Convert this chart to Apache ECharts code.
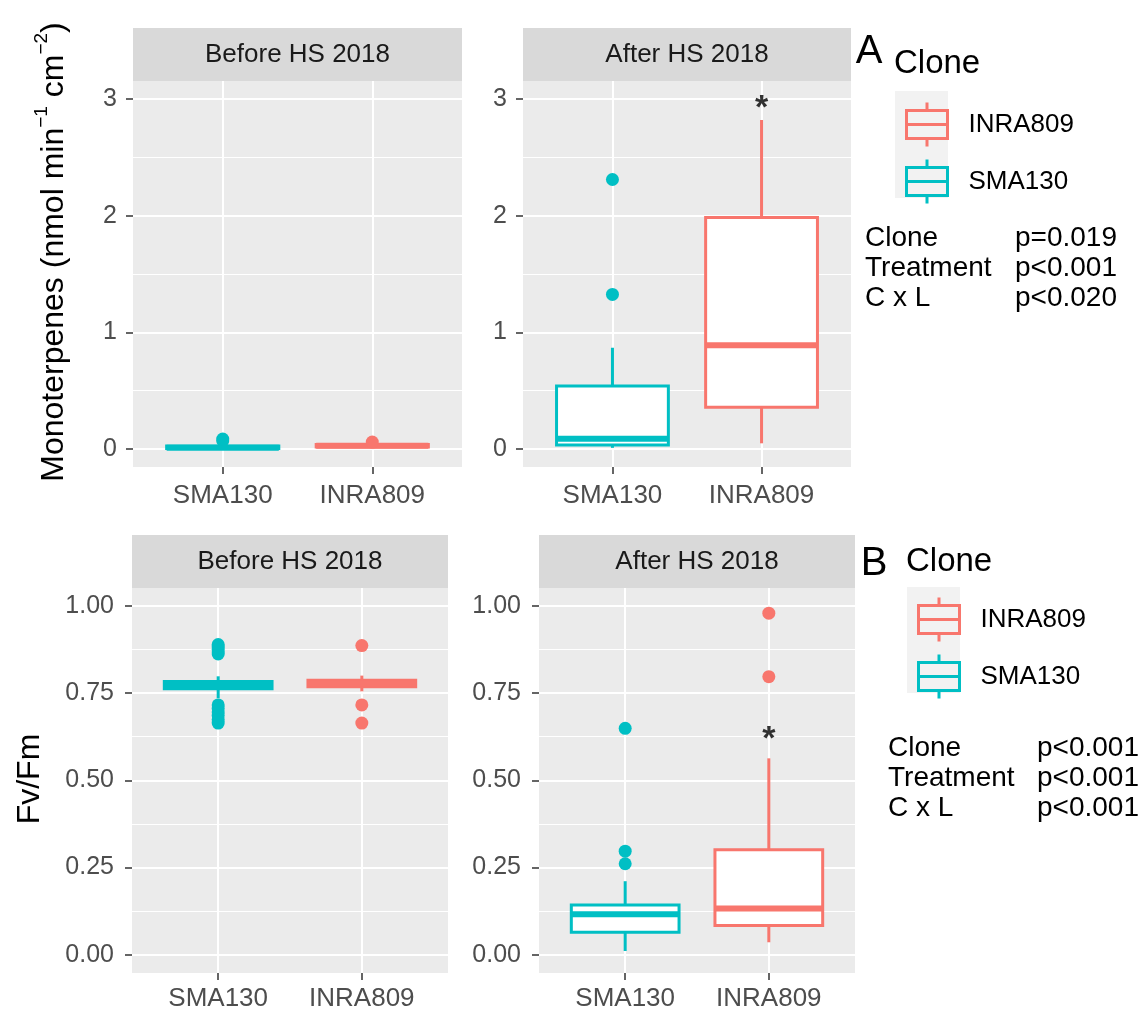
<!DOCTYPE html>
<html><head><meta charset="utf-8">
<script src="https://cdn.jsdelivr.net/npm/echarts@6/dist/echarts.min.js"></script>
<style>html,body{margin:0;padding:0;background:#fff}#c{width:1144px;height:1012px}</style>
</head><body><div id="c"></div>
<script>
// ---------------- data ----------------
const categories = ['SMA130', 'INRA809'];
const facetTitles = ['Before HS 2018', 'After HS 2018'];
const legendOrder = ['INRA809', 'SMA130'];
// box stats: [min, Q1, median, Q3, max], per category (SMA130, INRA809)
const monoBeforeBox = [[0.0, 0.005, 0.012, 0.025, 0.035], [0.01, 0.018, 0.028, 0.038, 0.05]];
const monoBeforeOut = [[0.07, 0.085], [0.06]];
const monoAfterBox = [[0.01, 0.034, 0.088, 0.54, 0.868], [0.049, 0.357, 0.889, 1.985, 2.82]];
const monoAfterOut = [[2.31, 1.325], []];
const fvBeforeBox = [[0.735, 0.762, 0.772, 0.783, 0.798], [0.755, 0.768, 0.778, 0.787, 0.80]];
const fvBeforeOut = [[0.889, 0.882, 0.875, 0.868, 0.862, 0.716, 0.706, 0.696, 0.686, 0.674, 0.664], [0.886, 0.716, 0.664]];
const fvAfterBox = [[0.011, 0.065, 0.116, 0.143, 0.211], [0.036, 0.084, 0.133, 0.301, 0.563]];
const fvAfterOut = [[0.649, 0.297, 0.261], [0.979, 0.797]];
// tick labels / gridline positions
const monoTicks = [0, 1, 2, 3];
const monoMinor = [0.5, 1.5, 2.5];
const fvTicks = [0, 0.25, 0.5, 0.75, 1];
const fvMinor = [0.125, 0.375, 0.625, 0.875];
// significance stars: panel index, category, y
const starPanels = [1, 3];
const starCats = ['INRA809', 'INRA809'];
const starY = [2.99, 0.64];
const statNames = ['Clone', 'Treatment', 'C x L'];
const statsA = ['p=0.019', 'p<0.001', 'p<0.020'];
const statsB = ['p<0.001', 'p<0.001', 'p<0.001'];

// ---------------- style ----------------
const COLORS = { SMA130: '#00BFC4', INRA809: '#F8766D' };
const FONT = 'Liberation Sans, Arial, sans-serif';

const panels = [
  { left: 133, top: 81, width: 329, height: 386, box: monoBeforeBox, out: monoBeforeOut, ticks: monoTicks, minor: monoMinor, ymin: -0.154, ymax: 3.154, fmt: v => String(v), title: facetTitles[0], lm: 16, ym: 16 },
  { left: 523, top: 81, width: 328, height: 386, box: monoAfterBox, out: monoAfterOut, ticks: monoTicks, minor: monoMinor, ymin: -0.154, ymax: 3.154, fmt: v => String(v), title: facetTitles[1], lm: 16, ym: 16 },
  { left: 132, top: 588, width: 316, height: 387, box: fvBeforeBox, out: fvBeforeOut, ticks: fvTicks, minor: fvMinor, ymin: -0.052, ymax: 1.051, fmt: v => v.toFixed(2), title: facetTitles[0], lm: 13, ym: 18 },
  { left: 539, top: 588, width: 316, height: 387, box: fvAfterBox, out: fvAfterOut, ticks: fvTicks, minor: fvMinor, ymin: -0.052, ymax: 1.051, fmt: v => v.toFixed(2), title: facetTitles[1], lm: 13, ym: 18 }
];
const catPos = categories.map((c, i) => i + 1);

function renderBox(params, api) {
  const x = api.value(0);
  const lo = api.coord([x, api.value(1)]);
  const q1 = api.coord([x, api.value(2)]);
  const md = api.coord([x, api.value(3)]);
  const q3 = api.coord([x, api.value(4)]);
  const hi = api.coord([x, api.value(5)]);
  const w = api.size([0.75, 0])[0];
  const color = api.visual('color');
  const cx = lo[0];
  const lw = 3;
  return {
    type: 'group',
    children: [
      { type: 'line', shape: { x1: cx, y1: q3[1], x2: cx, y2: hi[1] }, style: { stroke: color, lineWidth: lw } },
      { type: 'line', shape: { x1: cx, y1: q1[1], x2: cx, y2: lo[1] }, style: { stroke: color, lineWidth: lw } },
      { type: 'rect', shape: { x: cx - w / 2, y: q3[1], width: w, height: q1[1] - q3[1] }, style: { fill: '#ffffff', stroke: color, lineWidth: lw } },
      { type: 'line', shape: { x1: cx - w / 2, y1: md[1], x2: cx + w / 2, y2: md[1] }, style: { stroke: color, lineWidth: 6 } }
    ]
  };
}

const grid = [], xAxis = [], yAxis = [], series = [], graphic = [];
panels.forEach((p, i) => {
  grid.push({ left: p.left, top: p.top, width: p.width, height: p.height, show: true, backgroundColor: '#EBEBEB', borderWidth: 0 });
  xAxis.push({
    gridIndex: i, type: 'value', min: 0.4, max: 2.6, position: 'bottom',
    axisLine: { show: false, onZero: false },
    axisTick: { show: true, inside: false, customValues: catPos, length: 7, lineStyle: { color: '#333333', width: 1.5 } },
    axisLabel: { customValues: catPos, formatter: v => categories[Math.round(v) - 1], fontSize: 26, color: '#4D4D4D', margin: p.lm, fontFamily: FONT },
    splitLine: { show: true, lineStyle: { color: '#FFFFFF', width: 2 } }
  });
  yAxis.push({
    gridIndex: i, type: 'value', min: p.ymin, max: p.ymax, position: 'left',
    axisLine: { show: false, onZero: false },
    axisTick: { show: true, inside: false, customValues: p.ticks, length: 7, lineStyle: { color: '#333333', width: 1.5 } },
    axisLabel: { customValues: p.ticks, formatter: p.fmt, fontSize: 25, color: '#4D4D4D', margin: p.ym, fontFamily: FONT },
    splitLine: { show: true, lineStyle: { color: '#FFFFFF', width: 2 } }
  });
  yAxis.push({
    gridIndex: i, type: 'value', min: p.ymin, max: p.ymax, position: 'left',
    axisLine: { show: false, onZero: false },
    axisTick: { show: false, customValues: p.minor },
    axisLabel: { show: false, customValues: p.minor },
    splitLine: { show: true, lineStyle: { color: '#FFFFFF', width: 1.1 } },
    z: 0
  });
  categories.forEach((c, ci) => {
    series.push({
      type: 'custom', name: c, xAxisIndex: i, yAxisIndex: 2 * i,
      renderItem: renderBox,
      itemStyle: { color: COLORS[c] },
      encode: { x: 0, y: [1, 2, 3, 4, 5] },
      data: [[catPos[ci]].concat(p.box[ci])],
      z: 3
    });
    series.push({
      type: 'scatter', name: c, xAxisIndex: i, yAxisIndex: 2 * i,
      symbolSize: 13, itemStyle: { color: COLORS[c], opacity: 1 },
      data: p.out[ci].map(v => [catPos[ci], v]),
      z: 4
    });
  });
  // facet strip
  graphic.push({ type: 'rect', shape: { x: p.left, y: p.top - 53, width: p.width, height: 53 }, style: { fill: '#D9D9D9' }, z: 1 });
  graphic.push({ type: 'text', x: p.left + p.width / 2, y: p.top - 26, style: { text: p.title, fontSize: 26, fontFamily: FONT, fill: '#1A1A1A', textAlign: 'center', textVerticalAlign: 'middle' }, z: 2 });
});

// significance stars
starPanels.forEach((pi, k) => {
  series.push({
    type: 'scatter', xAxisIndex: pi, yAxisIndex: 2 * pi,
    symbolSize: 1, itemStyle: { color: 'rgba(0,0,0,0)' },
    label: { show: true, position: 'inside', formatter: '*', fontSize: 34, fontWeight: 'bold', color: '#000', fontFamily: FONT, offset: [0, 8] },
    data: [[catPos[categories.indexOf(starCats[k])], starY[k]]],
    z: 5
  });
});

// axis titles
graphic.push({
  type: 'text', x: 54, y: 252, rotation: Math.PI / 2,
  style: {
    text: 'Monoterpenes (nmol min{s|−1} cm{s|−2})', fontSize: 32, fontFamily: FONT, fill: '#000',
    textAlign: 'center', textVerticalAlign: 'middle',
    rich: { s: { fontSize: 19, fontFamily: FONT, fill: '#000', verticalAlign: 'top', lineHeight: 44 } }
  }
});
graphic.push({ type: 'text', x: 30, y: 779, rotation: Math.PI / 2, style: { text: 'Fv/Fm', fontSize: 32, fontFamily: FONT, fill: '#000', textAlign: 'center', textVerticalAlign: 'middle' } });

// panel letters, legend titles, key backgrounds
graphic.push({ type: 'text', x: 869, y: 52, style: { text: 'A', fontSize: 40, fontFamily: FONT, fill: '#000', textAlign: 'center', textVerticalAlign: 'middle' } });
graphic.push({ type: 'text', x: 894, y: 64, style: { text: 'Clone', fontSize: 33, fontFamily: FONT, fill: '#000', textAlign: 'left', textVerticalAlign: 'middle' } });
graphic.push({ type: 'rect', shape: { x: 895, y: 91, width: 53, height: 107 }, style: { fill: '#F2F2F2' }, z: 0 });
graphic.push({ type: 'text', x: 874, y: 564, style: { text: 'B', fontSize: 40, fontFamily: FONT, fill: '#000', textAlign: 'center', textVerticalAlign: 'middle' } });
graphic.push({ type: 'text', x: 906, y: 562, style: { text: 'Clone', fontSize: 33, fontFamily: FONT, fill: '#000', textAlign: 'left', textVerticalAlign: 'middle' } });
graphic.push({ type: 'rect', shape: { x: 907, y: 587, width: 53, height: 106 }, style: { fill: '#F2F2F2' }, z: 0 });

// statistics text
statNames.forEach((n, k) => {
  graphic.push({ type: 'text', x: 865, y: 238 + 30 * k, style: { text: n, fontSize: 28, fontFamily: FONT, fill: '#000', textVerticalAlign: 'middle' } });
  graphic.push({ type: 'text', x: 1015, y: 238 + 30 * k, style: { text: statsA[k], fontSize: 28, fontFamily: FONT, fill: '#000', textVerticalAlign: 'middle' } });
  graphic.push({ type: 'text', x: 888, y: 748 + 30 * k, style: { text: n, fontSize: 28, fontFamily: FONT, fill: '#000', textVerticalAlign: 'middle' } });
  graphic.push({ type: 'text', x: 1037, y: 748 + 30 * k, style: { text: statsB[k], fontSize: 28, fontFamily: FONT, fill: '#000', textVerticalAlign: 'middle' } });
});

const boxIcon = 'path://M20.5,0 L20.5,8 M0,8 L41,8 L41,36 L0,36 Z M0,22 L41,22 M20.5,36 L20.5,44';
function legendCfg(left, top) {
  return {
    orient: 'vertical', left: left, top: top, itemWidth: 41, itemHeight: 44, itemGap: 10, selectedMode: false,
    data: legendOrder.map(n => ({ name: n, icon: boxIcon, itemStyle: { color: 'rgba(0,0,0,0)', borderColor: COLORS[n], borderWidth: 3 } })),
    textStyle: { fontSize: 26, color: '#000', fontFamily: FONT, padding: [0, 0, 0, 16] }
  };
}

const chart = echarts.init(document.getElementById('c'), null, { renderer: 'canvas' });
chart.setOption({
  animation: false,
  backgroundColor: '#FFFFFF',
  textStyle: { fontFamily: FONT },
  grid, xAxis, yAxis, series, graphic,
  legend: [legendCfg(900, 96), legendCfg(912, 591)]
});
</script>
</body></html>
